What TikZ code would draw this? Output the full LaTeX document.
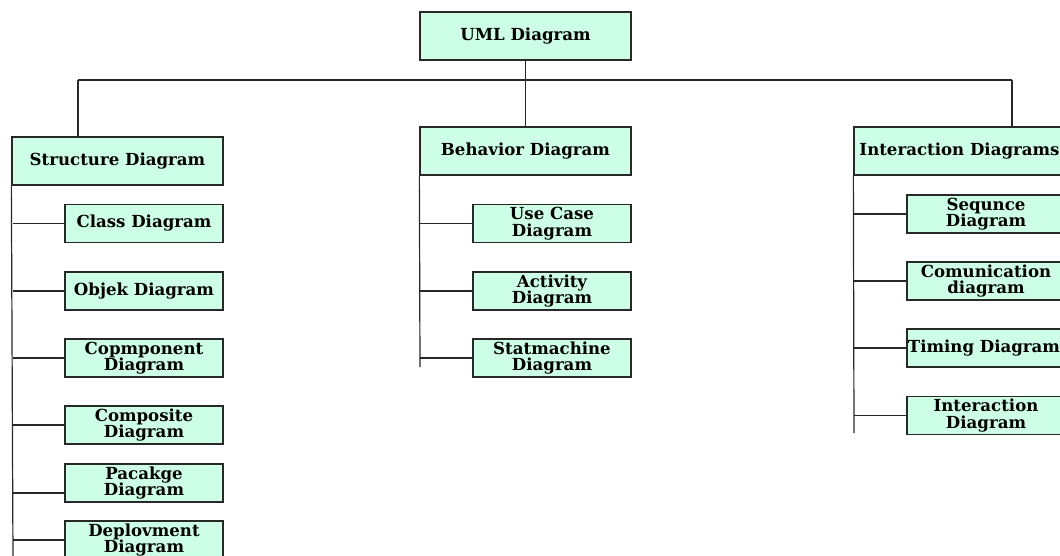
\documentclass[tikz,border=0pt]{standalone}
\usepackage{fontspec}
\setmainfont{DejaVu Serif}
\usetikzlibrary{calc}
\definecolor{boxfill}{RGB}{204,255,229}
\definecolor{linecol}{RGB}{40,40,40}
\begin{document}
\begin{tikzpicture}[x=1pt,y=-1pt,
  box/.style={draw=linecol,line width=1.3pt,fill=boxfill,inner sep=0pt,align=center,
    font=\bfseries\fontsize{16.6}{16.5}\selectfont},
  topbox/.style={box,minimum width=211pt,minimum height=48pt},
  subbox/.style={box,minimum width=158pt,minimum height=38pt},
  conn/.style={draw=linecol,line width=1.2pt}]
\useasboundingbox (0,0) rectangle (1060,556);
\node[topbox] (uml) at (525.5,36) {UML Diagram};
\node[topbox] (str) at (117.5,161) {Structure Diagram};
\node[topbox] (beh) at (525.5,151) {Behavior Diagram};
\node[topbox] (int) at (959.5,151) {Interaction Diagrams};
% structure children
\node[subbox] (cls) at (144,223.5) {Class Diagram};
\node[subbox] (obj) at (144,291) {Objek Diagram};
\node[subbox] (cmp) at (144,358) {Copmponent\\Diagram};
\node[subbox] (csp) at (144,425) {Composite\\Diagram};
\node[subbox] (pkg) at (144,483) {Pacakge\\Diagram};
\node[subbox] (dep) at (144,540) {Deplovment\\Diagram};
% behavior children
\node[subbox] (use) at (552,223.5) {Use Case\\Diagram};
\node[subbox] (act) at (552,291) {Activity\\Diagram};
\node[subbox] (stm) at (552,358) {Statmachine\\Diagram};
% interaction children
\node[subbox] (seq) at (986,214) {Sequnce\\Diagram};
\node[subbox] (com) at (986,281) {Comunication\\diagram};
\node[subbox] (tim) at (986,348) {\hspace*{-4pt}Timing Diagram};
\node[subbox] (itr) at (986,415.5) {Interaction\\Diagram};
% bus
\coordinate (hl) at (78,80);
\coordinate (hr) at (1012,80);
\draw[conn] (hl) -- (hr);
\draw[conn] (uml.south) -- (beh.north);
\draw[conn] (hl) -- (hl |- str.north);
\draw[conn] (hr) -- (hr |- int.north);
% spines
\coordinate (sEnd) at (13,558);
\coordinate (bEnd) at (420,367);
\coordinate (iEnd) at (854,433);
\draw[conn] (str.south west) -- (sEnd);
\draw[conn] (beh.south west) -- (bEnd);
\draw[conn] (int.south west) -- (iEnd);
\foreach \n in {cls,obj,cmp,csp,dep}{\draw[conn] (\n.west) -- (sEnd |- \n.west);}
\coordinate (pkgW) at ([yshift=-10pt]pkg.west);
\draw[conn] (pkgW) -- (sEnd |- pkgW);
\foreach \n in {use,act,stm}{\draw[conn] (\n.west) -- (bEnd |- \n.west);}
\foreach \n in {seq,com,tim,itr}{\draw[conn] (\n.west) -- (iEnd |- \n.west);}
\end{tikzpicture}
\end{document}
